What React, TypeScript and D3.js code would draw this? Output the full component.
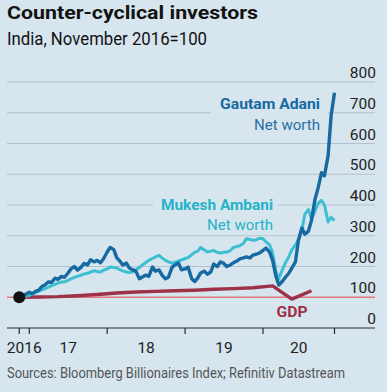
import React from "react";
import * as d3 from "d3";

// Semi-monthly observations, 15 Nov 2016 -> 1 Dec 2020 (index, Nov 2016 = 100)
const adaniValues = [
  100, 103, 110, 116, 112, 120, 123, 135, 140, 150, 148, 162, 158, 168, 165, 178,
  192, 200, 188, 198, 210, 205, 222, 215, 220, 212, 225, 247, 262, 255, 228, 218,
  205, 211, 195, 189, 185, 160, 166, 172, 168, 198, 185, 189, 172, 160, 165, 198,
  205, 211, 189, 192, 198, 160, 151, 162, 179, 185, 175, 182, 208, 200, 215, 210,
  200, 205, 212, 218, 225, 228, 231, 228, 237, 240, 244, 252, 260, 247, 221, 170,
  140, 152, 165, 178, 195, 215, 285, 325, 305, 315, 350, 420, 455, 505, 495, 560,
  690, 765,
];

const ambaniValues = [
  100, 101, 104, 106, 110, 115, 120, 124, 128, 133, 138, 142, 146, 150, 150, 155,
  160, 165, 168, 172, 176, 178, 182, 186, 184, 182, 188, 192, 198, 197, 195, 190,
  186, 182, 180, 183, 189, 197, 205, 213, 220, 226, 231, 236, 228, 220, 215, 211,
  214, 218, 221, 226, 229, 238, 246, 250, 262, 254, 247, 250, 252, 246, 244, 246,
  247, 252, 262, 265, 268, 275, 290, 288, 285, 287, 292, 290, 280, 270, 245, 185,
  160, 190, 212, 232, 254, 270, 288, 318, 370, 385, 355, 380, 405, 415, 400, 345,
  360, 350,
];

// Quarterly GDP, plotted at mid-quarter (Q4 2016 -> Q3 2020)
const gdpDates = [
  "2016-11-15", "2017-02-15", "2017-05-15", "2017-08-15", "2017-11-15",
  "2018-02-15", "2018-05-15", "2018-08-15", "2018-11-15", "2019-02-15",
  "2019-05-15", "2019-08-15", "2019-11-15", "2020-02-15", "2020-05-15",
  "2020-08-15",
];
const gdpValues = [100, 101, 102, 105, 109, 114, 117, 119, 121, 123, 126, 128, 131, 137, 94, 121];

const yTicks = [0, 100, 200, 300, 400, 500, 600, 700, 800];
const xTickDates = ["2016-11-15", "2017-01-01", "2018-01-01", "2019-01-01", "2020-01-01", "2020-12-01"];
const xTickLabels = ["2016", "17", "18", "19", "20"];

const parse = d3.timeParse("%Y-%m-%d");

// 1st and 15th of each month, starting 15 Nov 2016
const seriesDates: Date[] = adaniValues.map((_, i) => {
  const monthOffset = Math.floor((i + 1) / 2);
  const day = i % 2 === 0 ? 15 : 1;
  return new Date(2016, 10 + monthOffset, day);
});

const BG = "#d6e5ee";
const GRID = "#b2c3cd";
const FONT = "Roboto, 'Open Sans', sans-serif";

interface Pt {
  date: Date;
  value: number;
}

export default function App() {
  const width = 387;
  const height = 392;
  const gridLeft = 7;
  const gridRight = 375;

  const x = d3
    .scaleTime()
    .domain([parse("2016-11-15")!, parse("2020-12-01")!])
    .range([19.25, 334.5]);
  const y = d3.scaleLinear().domain([0, 800]).range([328, 82]);

  const line = d3
    .line<Pt>()
    .x((d) => x(d.date))
    .y((d) => y(d.value));

  const adani: Pt[] = seriesDates.map((date, i) => ({ date, value: adaniValues[i] }));
  const ambani: Pt[] = seriesDates.map((date, i) => ({ date, value: ambaniValues[i] }));
  const gdp: Pt[] = gdpDates.map((d, i) => ({ date: parse(d)!, value: gdpValues[i] }));

  const tickX = xTickDates.map((d) => x(parse(d)!));

  return (
    <svg
      width={width}
      height={height}
      style={{ position: "absolute", left: 0, top: 0, background: BG }}
      fontFamily={FONT}
    >
      <rect width={width} height={height} fill={BG} />

      {/* titles */}
      <text x={7} y={19} fontSize={18.5} fontWeight={700} fill="#121212" textLength={251} lengthAdjust="spacingAndGlyphs">
        Counter-cyclical investors
      </text>
      <text x={7} y={45} fontSize={17.5} fill="#121212" textLength={200} lengthAdjust="spacingAndGlyphs">
        India, November 2016=100
      </text>

      {/* gridlines */}
      {yTicks
        .filter((v) => v > 100)
        .map((v) => (
          <line key={v} x1={gridLeft} x2={gridRight} y1={y(v)} y2={y(v)} stroke={GRID} strokeWidth={1} />
        ))}

      {/* label knockouts */}
      <rect x={211} y={95} width={117} height={38} fill={BG} />
      <rect x={153} y={196} width={125} height={36} fill={BG} />

      {/* y labels */}
      {yTicks.map((v) => (
        <text key={v} x={376} y={y(v) - 4} textAnchor="end" fontSize={15.5} fill="#222">
          {v}
        </text>
      ))}

      {/* index = 100 line */}
      <line x1={gridLeft} x2={gridRight} y1={y(100)} y2={y(100)} stroke="#e2797c" strokeWidth={1.6} />

      {/* x axis */}
      <line x1={gridLeft} x2={gridRight} y1={y(0)} y2={y(0)} stroke="#2a2a2a" strokeWidth={1.2} />
      {tickX.map((tx, i) => (
        <line key={i} x1={tx} x2={tx} y1={y(0)} y2={y(0) + 6} stroke="#2a2a2a" strokeWidth={1.2} />
      ))}
      {xTickLabels.map((label, i) => (
        <text key={label} x={(tickX[i] + tickX[i + 1]) / 2} y={353} textAnchor="middle" fontSize={15.5} fill="#222">
          {label}
        </text>
      ))}

      {/* series */}
      <path d={line(gdp) ?? ""} fill="none" stroke="#9e3148" strokeWidth={3.4} strokeLinejoin="round" />
      <path d={line(ambani) ?? ""} fill="none" stroke="#3dbfd1" strokeWidth={3} strokeLinejoin="round" />
      <path d={line(adani) ?? ""} fill="none" stroke="#176aa1" strokeWidth={3.4} strokeLinejoin="round" />
      <circle cx={x(adani[0].date)} cy={y(100)} r={6} fill="#111" />

      {/* series labels */}
      <text x={320} y={109} textAnchor="end" fontSize={15.5} fontWeight={700} fill="#176aa1" textLength={100} lengthAdjust="spacingAndGlyphs">
        Gautam Adani
      </text>
      <text x={320} y={130} textAnchor="end" fontSize={15.5} fill="#2a6fa3" textLength={66} lengthAdjust="spacingAndGlyphs">
        Net worth
      </text>
      <text x={273} y={210} textAnchor="end" fontSize={15.5} fontWeight={700} fill="#25b2c8" textLength={112} lengthAdjust="spacingAndGlyphs">
        Mukesh Ambani
      </text>
      <text x={273} y={230} textAnchor="end" fontSize={15.5} fill="#25b2c8" textLength={66} lengthAdjust="spacingAndGlyphs">
        Net worth
      </text>
      <text x={292} y={317} textAnchor="middle" fontSize={15.5} fontWeight={700} fill="#9e3148" textLength={31} lengthAdjust="spacingAndGlyphs">
        GDP
      </text>

      {/* source */}
      <text x={7} y={378} fontSize={14.5} fill="#555" textLength={338} lengthAdjust="spacingAndGlyphs">
        Sources: Bloomberg Billionaires Index; Refinitiv Datastream
      </text>
    </svg>
  );
}
